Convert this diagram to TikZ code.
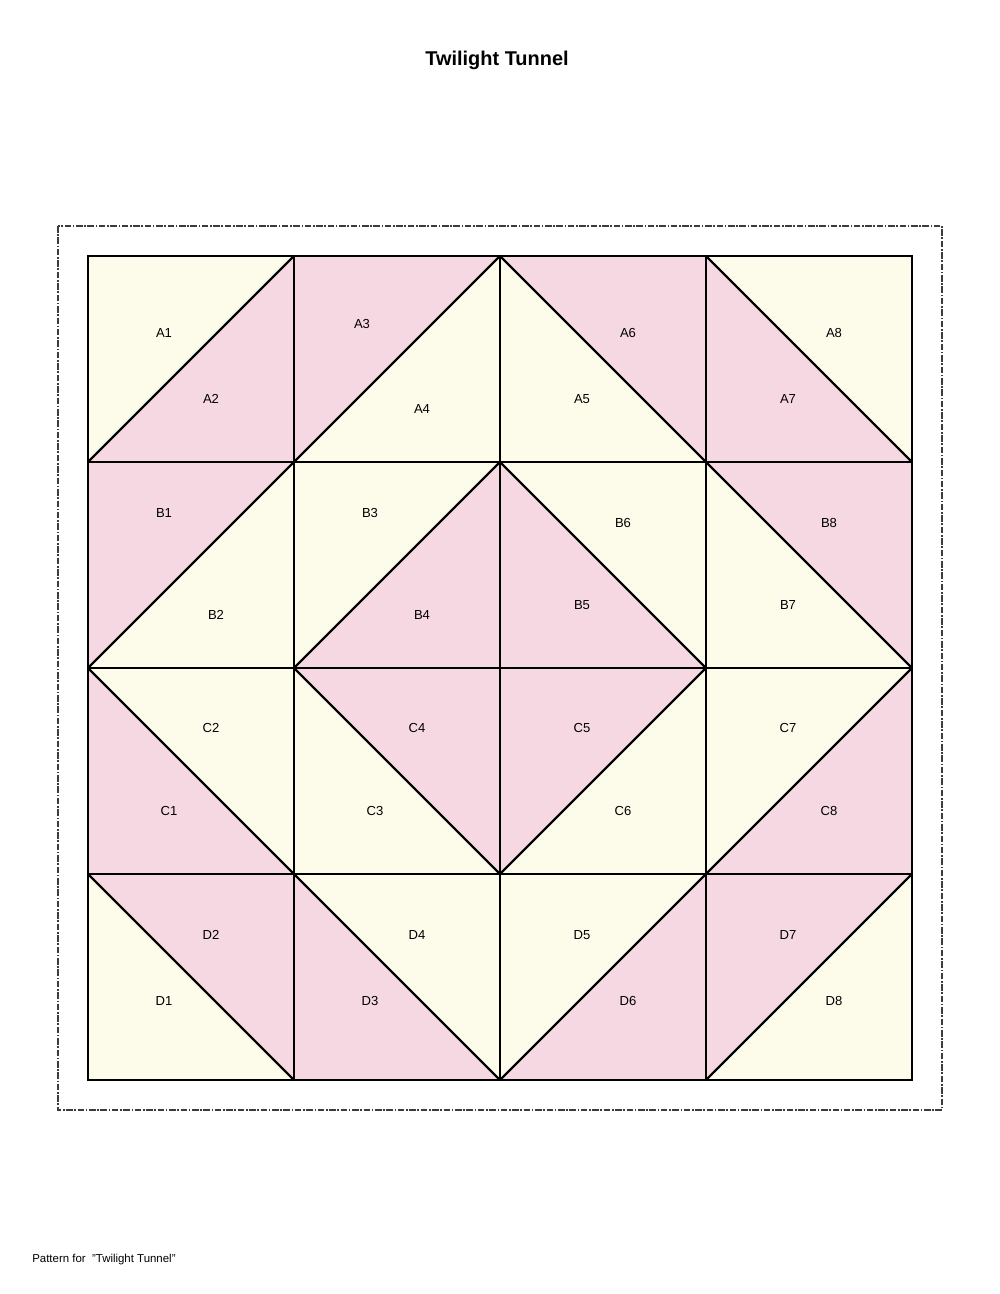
\documentclass[tikz,border=0pt]{standalone}
\usepackage{fontspec}
\setmainfont{Liberation Sans}
\usepackage{xcolor}
\usepackage{tikz}
\definecolor{quiltpink}{RGB}{246, 216, 226}
\definecolor{quiltcream}{RGB}{253, 252, 235}
\definecolor{quiltgray}{RGB}{60, 60, 60}
\usetikzlibrary{positioning}

\begin{document}
\begin{tikzpicture}[x=0.612pt, y=-0.612pt]
    % Define styles
    \tikzstyle{pink} = [fill=quiltpink, draw=black, line width=1.2pt, line join=round]
    \tikzstyle{cream} = [fill=quiltcream, draw=black, line width=1.2pt, line join=round]
    \tikzstyle{patch} = [font=\fontsize{8}{9}\selectfont, inner sep=0pt]
    \tikzstyle{margin} = [draw=quiltgray, line width=0.7pt, dash pattern=on 4pt off 1pt on 1pt off 1pt]

    \useasboundingbox (0,0) rectangle (1000,1294);

    % Title and frame
    \node[font=\fontsize{12.2}{14}\selectfont\bfseries] (title) at (497,60) {Twilight Tunnel};
    \draw[margin] (58,226) rectangle (942,1110);

    % Row A
    \fill[cream] (88,256) -- (294,256) -- (88,462) -- cycle;
    \fill[pink] (294,256) -- (294,462) -- (88,462) -- cycle;
    \fill[pink] (294,256) -- (500,256) -- (294,462) -- cycle;
    \fill[cream] (500,256) -- (500,462) -- (294,462) -- cycle;
    \fill[cream] (500,256) -- (706,462) -- (500,462) -- cycle;
    \fill[pink] (500,256) -- (706,256) -- (706,462) -- cycle;
    \fill[pink] (706,256) -- (912,462) -- (706,462) -- cycle;
    \fill[cream] (706,256) -- (912,256) -- (912,462) -- cycle;

    % Row B
    \fill[pink] (88,462) -- (294,462) -- (88,668) -- cycle;
    \fill[cream] (294,462) -- (294,668) -- (88,668) -- cycle;
    \fill[cream] (294,462) -- (500,462) -- (294,668) -- cycle;
    \fill[pink] (500,462) -- (500,668) -- (294,668) -- cycle;
    \fill[pink] (500,462) -- (706,668) -- (500,668) -- cycle;
    \fill[cream] (500,462) -- (706,462) -- (706,668) -- cycle;
    \fill[cream] (706,462) -- (912,668) -- (706,668) -- cycle;
    \fill[pink] (706,462) -- (912,462) -- (912,668) -- cycle;

    % Row C
    \fill[pink] (88,668) -- (294,874) -- (88,874) -- cycle;
    \fill[cream] (88,668) -- (294,668) -- (294,874) -- cycle;
    \fill[cream] (294,668) -- (500,874) -- (294,874) -- cycle;
    \fill[pink] (294,668) -- (500,668) -- (500,874) -- cycle;
    \fill[pink] (500,668) -- (706,668) -- (500,874) -- cycle;
    \fill[cream] (706,668) -- (706,874) -- (500,874) -- cycle;
    \fill[cream] (706,668) -- (912,668) -- (706,874) -- cycle;
    \fill[pink] (912,668) -- (912,874) -- (706,874) -- cycle;

    % Row D
    \fill[cream] (88,874) -- (294,1080) -- (88,1080) -- cycle;
    \fill[pink] (88,874) -- (294,874) -- (294,1080) -- cycle;
    \fill[pink] (294,874) -- (500,1080) -- (294,1080) -- cycle;
    \fill[cream] (294,874) -- (500,874) -- (500,1080) -- cycle;
    \fill[cream] (500,874) -- (706,874) -- (500,1080) -- cycle;
    \fill[pink] (706,874) -- (706,1080) -- (500,1080) -- cycle;
    \fill[pink] (706,874) -- (912,874) -- (706,1080) -- cycle;
    \fill[cream] (912,874) -- (912,1080) -- (706,1080) -- cycle;

    % Seams
    \draw[line width=1.2pt] (88,256) rectangle (912,1080);
    \draw[line width=1.2pt] (294,256) -- (294,1080) (500,256) -- (500,1080) (706,256) -- (706,1080);
    \draw[line width=1.2pt] (88,462) -- (912,462) (88,668) -- (912,668) (88,874) -- (912,874);
    \draw[line width=1.2pt] (88,462) -- (294,256) (294,462) -- (500,256) (500,256) -- (706,462) (706,256) -- (912,462);
    \draw[line width=1.2pt] (88,668) -- (294,462) (294,668) -- (500,462) (500,462) -- (706,668) (706,462) -- (912,668);
    \draw[line width=1.2pt] (88,668) -- (294,874) (294,668) -- (500,874) (500,874) -- (706,668) (706,874) -- (912,668);
    \draw[line width=1.2pt] (88,874) -- (294,1080) (294,874) -- (500,1080) (500,1080) -- (706,874) (706,1080) -- (912,874);

    % Labels
    \node[patch] (a1) at (164,333) {A1};
    \node[patch] (a2) at (211,399) {A2};
    \node[patch] (a3) at (362,324) {A3};
    \node[patch] (a4) at (422,409) {A4};
    \node[patch] (a5) at (582,399) {A5};
    \node[patch] (a6) at (628,333) {A6};
    \node[patch] (a7) at (788,399) {A7};
    \node[patch] (a8) at (834,333) {A8};
    \node[patch] (b1) at (164,513) {B1};
    \node[patch] (b2) at (216,615) {B2};
    \node[patch] (b3) at (370,513) {B3};
    \node[patch] (b4) at (422,615) {B4};
    \node[patch] (b5) at (582,605) {B5};
    \node[patch] (b6) at (623,523) {B6};
    \node[patch] (b7) at (788,605) {B7};
    \node[patch] (b8) at (829,523) {B8};
    \node[patch] (c1) at (169,811) {C1};
    \node[patch] (c2) at (211,728) {C2};
    \node[patch] (c3) at (375,811) {C3};
    \node[patch] (c4) at (417,728) {C4};
    \node[patch] (c5) at (582,728) {C5};
    \node[patch] (c6) at (623,811) {C6};
    \node[patch] (c7) at (788,728) {C7};
    \node[patch] (c8) at (829,811) {C8};
    \node[patch] (d1) at (164,1001) {D1};
    \node[patch] (d2) at (211,935) {D2};
    \node[patch] (d3) at (370,1001) {D3};
    \node[patch] (d4) at (417,935) {D4};
    \node[patch] (d5) at (582,935) {D5};
    \node[patch] (d6) at (628,1001) {D6};
    \node[patch] (d7) at (788,935) {D7};
    \node[patch] (d8) at (834,1001) {D8};

    % Footer
    \node[anchor=west, font=\fontsize{7}{8}\selectfont, inner sep=0pt] (footer) at (32,1260) {Pattern for\ \ \symbol{34}Twilight Tunnel\symbol{34}};
\end{tikzpicture}
\end{document}
